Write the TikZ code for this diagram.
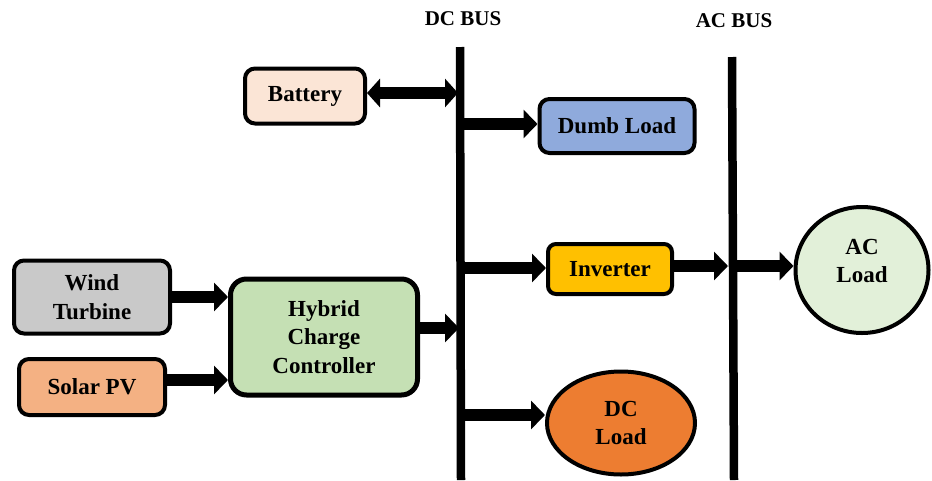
\documentclass[tikz,border=0pt]{standalone}
\usepackage{fontspec}
\setmainfont{Liberation Serif}
\usetikzlibrary{arrows.meta,shapes.geometric}

\definecolor{battfill}{HTML}{FBE5D6}
\definecolor{dumpfill}{HTML}{8FAADC}
\definecolor{invfill}{HTML}{FFC000}
\definecolor{windfill}{HTML}{C9C9C9}
\definecolor{solarfill}{HTML}{F4B183}
\definecolor{hccfill}{HTML}{C5E0B4}
\definecolor{dcfill}{HTML}{ED7D31}
\definecolor{acfill}{HTML}{E2F0D9}

\tikzset{
  blockbox/.style={draw=black, line width=4pt, rounded corners=10pt,
    align=center, inner sep=0pt,
    font=\fontsize{23}{28.5}\selectfont\bfseries},
  loadoval/.style={draw=black, line width=4pt, ellipse,
    align=center, inner sep=0pt,
    font=\fontsize{23}{28.5}\selectfont\bfseries},
  busline/.style={line width=8.5pt},
  buslabel/.style={font=\fontsize{21}{24}\selectfont\bfseries, inner sep=0pt},
  flow/.style={line width=12.5pt, -{Triangle[length=14pt,width=28pt]}},
  twoflow/.style={line width=12.5pt, {Triangle[length=13pt,width=28pt]}-{Triangle[length=13pt,width=28pt]}},
}

\begin{document}
\begin{tikzpicture}[x=1pt,y=-1pt]
  \useasboundingbox (0,0) rectangle (932,480);

  % buses
  \coordinate (dctop) at (460,47);
  \coordinate (dcbot) at (461,480);
  \coordinate (actop) at (732,57);
  \coordinate (acbot) at (734,480);
  \draw[busline] (dctop) -- (dcbot);
  \draw[busline] (actop) -- (acbot);
  \node[buslabel] (dclabel) at (463,19) {DC BUS};
  \node[buslabel] (aclabel) at (734,21) {AC BUS};

  % blocks
  \node[blockbox, fill=battfill, minimum width=120pt, minimum height=55pt] (batt) at (305,96) {Battery};
  \node[blockbox, fill=dumpfill, minimum width=155pt, minimum height=54pt] (dump) at (617,126) {Dumb Load};
  \node[blockbox, fill=invfill, minimum width=124pt, minimum height=50pt, rounded corners=8pt] (inv) at (610,269) {Inverter};
  \node[blockbox, fill=windfill, minimum width=156pt, minimum height=73pt] (wind) at (92,297) {Wind\\Turbine};
  \node[blockbox, fill=solarfill, minimum width=146pt, minimum height=56pt] (solar) at (92,387) {Solar PV};
  \node[blockbox, fill=hccfill, line width=5pt, minimum width=187pt, minimum height=116pt, rounded corners=16pt] (hcc) at (324,337) {Hybrid\\Charge\\Controller};
  \node[loadoval, fill=dcfill, minimum width=148pt, minimum height=103pt] (dcload) at (621,423) {DC\\Load};
  \node[loadoval, fill=acfill, minimum width=133pt, minimum height=126pt] (acload) at (862,270) {AC\\Load\\[-10pt]};

  % tap points on the buses
  \coordinate (dcbatt) at (458,93);
  \coordinate (dcdump) at (460,124);
  \coordinate (dcinv) at (460,268);
  \coordinate (dchcc) at (459,328);
  \coordinate (dcdc) at (461,415);
  \coordinate (acin) at (728,266);
  \coordinate (acout) at (737,266);

  % power flows
  \draw[twoflow] (batt.east |- dcbatt) -- (dcbatt);
  \draw[flow] (dcdump) -- (dump.west |- dcdump);
  \draw[flow] (dcinv) -- (inv.west |- dcinv);
  \draw[flow] (dcdc) -- (dcload.west |- dcdc);
  \draw[flow] (wind.east |- 0,297) -- (hcc.west |- 0,297);
  \draw[flow] (solar.east |- 0,380) -- (hcc.west |- 0,380);
  \draw[flow] (hcc.east |- dchcc) -- (dchcc);
  \draw[flow] (inv.east |- acin) -- (acin);
  \draw[flow] (acout) -- (acload.west |- acout);
\end{tikzpicture}
\end{document}
